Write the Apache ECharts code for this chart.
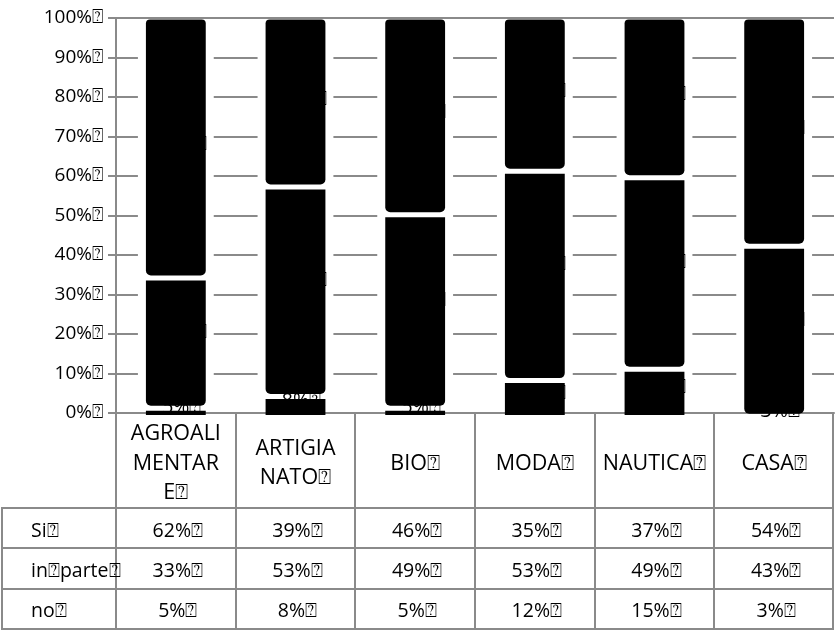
<!DOCTYPE html>
<html>
<head>
<meta charset="utf-8">
<script src="https://cdn.jsdelivr.net/npm/echarts@6/dist/echarts.min.js"></script>
<style>
  html, body { margin: 0; padding: 0; background: #fff; }
  #chart { width: 835px; height: 630px; }
</style>
</head>
<body>
<div id="chart"></div>
<script>
// Survey answers per sector (percent of respondents)
const categories = ['AGROALIMENTARE', 'ARTIGIANATO', 'BIO', 'MODA', 'NAUTICA', 'CASA'];
const headerLabels = ['AGROALI\nMENTAR\nE⍰', 'ARTIGIA\nNATO⍰', 'BIO⍰', 'MODA⍰', 'NAUTICA⍰', 'CASA⍰'];
const rowLabels = ['Si⍰', 'in⍰parte⍰', 'no⍰'];
const si = [62, 39, 46, 35, 37, 54];
const inParte = [33, 53, 49, 53, 49, 43];
const no = [5, 8, 5, 12, 15, 3];
const pctSuffix = '%⍰';

// Layout and styling
const FONT = "'Open Sans', sans-serif";
const LINE = '#8a8a8a';
const W = 835, H = 630;
const GRID = { left: 116, top: 18, right: 1, bottom: 217 };
const BAR_RATIO = 0.5;
const HALO = 8;      // white space kept around each column
const DEPTH = 15;    // downward perspective shift of the stacked pieces
const GAP = 5;       // white gap between pieces
const TABLE_HEADER_BOTTOM = 508;
const TABLE_BOTTOM = 629;

const plotW = W - GRID.left - GRID.right;
const band = plotW / categories.length;
const tableTop = H - GRID.bottom;

function labelText(v) { return v + pctSuffix; }

function renderBars(params, api) {
  const i = api.value(0);
  const vNo = api.value(1), vPar = api.value(2), vSi = api.value(3);
  const total = vNo + vPar + vSi;
  const b1 = vNo / total * 100;
  const b2 = (vNo + vPar) / total * 100;
  const cx = api.coord([i, 0])[0];
  const y = v => api.coord([i, v])[1];
  const bw = api.size([1, 0])[0] * BAR_RATIO;
  const x0 = cx - bw / 2;
  const y0 = y(0), y100 = y(100);
  const children = [];
  children.push({
    type: 'rect',
    shape: { x: x0 - HALO, y: y100 + 1.5, width: bw + 2 * HALO, height: (y0 - 1.5) - (y100 + 1.5) },
    style: { fill: '#fff' }
  });
  const segs = [
    { top: y100 + 1.5, bottom: y(b2) + DEPTH - GAP / 2, r: [4, 4, 5, 5], v: vSi, mid: (b2 + 100) / 2 },
    { top: y(b2) + DEPTH + GAP / 2, bottom: y(b1) + DEPTH - GAP / 2, r: [0, 0, 5, 5], v: vPar, mid: (b1 + b2) / 2 },
    { top: y(b1) + DEPTH + GAP / 2, bottom: y0 + 2, r: 0, v: vNo, mid: b1 / 2 }
  ];
  segs.forEach(s => {
    const bottom = Math.min(s.bottom, y0 + 2);
    const h = bottom - s.top;
    if (h > 0) {
      children.push({
        type: 'rect',
        shape: { x: x0, y: s.top, width: bw, height: h, r: s.r },
        style: { fill: '#000' }
      });
    }
  });
  segs.forEach(s => {
    children.push({
      type: 'text',
      x: cx + 6,
      y: y(s.mid) + 4,
      style: {
        text: labelText(s.v), fill: '#000', font: '19.5px ' + FONT,
        align: 'center', verticalAlign: 'middle',
        textAlign: 'center', textVerticalAlign: 'middle'
      }
    });
  });
  return { type: 'group', children: children };
}

// Data table under the plot
function buildTable() {
  const els = [];
  const line = (x1, y1, x2, y2) => els.push({
    type: 'line', shape: { x1, y1, x2, y2 },
    style: { stroke: LINE, lineWidth: 2 }, z: 10
  });
  const text = (x, y, t, size, align, lh) => els.push({
    type: 'text', x, y, z: 11,
    style: {
      text: t, fill: '#000', font: size + 'px ' + FONT,
      align: align, verticalAlign: 'middle', textAlign: align, textVerticalAlign: 'middle',
      lineHeight: lh || size * 1.3
    }
  });
  const rowH = (TABLE_BOTTOM - TABLE_HEADER_BOTTOM) / rowLabels.length;
  const right = GRID.left + plotW - 1;
  // vertical separators
  for (let k = 0; k <= categories.length; k++) {
    const x = Math.round(GRID.left + k * band) - (k === categories.length ? 1 : 0);
    line(x, tableTop, x, TABLE_BOTTOM);
  }
  line(2, TABLE_HEADER_BOTTOM, 2, TABLE_BOTTOM);
  // horizontal rules
  for (let r = 0; r <= rowLabels.length; r++) {
    const yy = Math.round(TABLE_HEADER_BOTTOM + r * rowH);
    line(1, yy, right + 1, yy);
  }
  // header
  const headMid = (tableTop + TABLE_HEADER_BOTTOM) / 2 + 3;
  headerLabels.forEach((h, i) => text(GRID.left + (i + 0.5) * band, headMid, h, 21.5, 'center', 29.5));
  // rows
  const rows = [si, inParte, no];
  rowLabels.forEach((lab, r) => {
    const ym = TABLE_HEADER_BOTTOM + (r + 0.5) * rowH + 3;
    text(31, ym, lab, 19.5, 'left');
    rows[r].forEach((v, i) => text(GRID.left + (i + 0.5) * band + 2, ym, labelText(v), 19.5, 'center'));
  });
  return els;
}

const chart = echarts.init(document.getElementById('chart'), null, { renderer: 'canvas' });
chart.setOption({
  animation: false,
  backgroundColor: '#fff',
  grid: { left: GRID.left, top: GRID.top, right: GRID.right, bottom: GRID.bottom, containLabel: false },
  xAxis: {
    type: 'category',
    data: categories,
    axisLine: { show: true, lineStyle: { color: LINE, width: 2 } },
    axisTick: { show: false },
    axisLabel: { show: false },
    splitLine: { show: false }
  },
  yAxis: {
    type: 'value',
    min: 0, max: 100, interval: 10,
    axisLine: { show: true, lineStyle: { color: LINE, width: 2 } },
    axisTick: { show: true, length: 8, lineStyle: { color: LINE, width: 2 } },
    axisLabel: {
      formatter: v => labelText(v),
      color: '#000', fontFamily: FONT, fontSize: 19, margin: 13
    },
    splitLine: { show: true, lineStyle: { color: LINE, width: 2 } }
  },
  series: [{
    type: 'custom',
    clip: false,
    renderItem: renderBars,
    encode: { x: 0, y: 1 },
    data: categories.map((c, i) => [i, no[i], inParte[i], si[i]])
  }],
  graphic: buildTable()
});
</script>
</body>
</html>
